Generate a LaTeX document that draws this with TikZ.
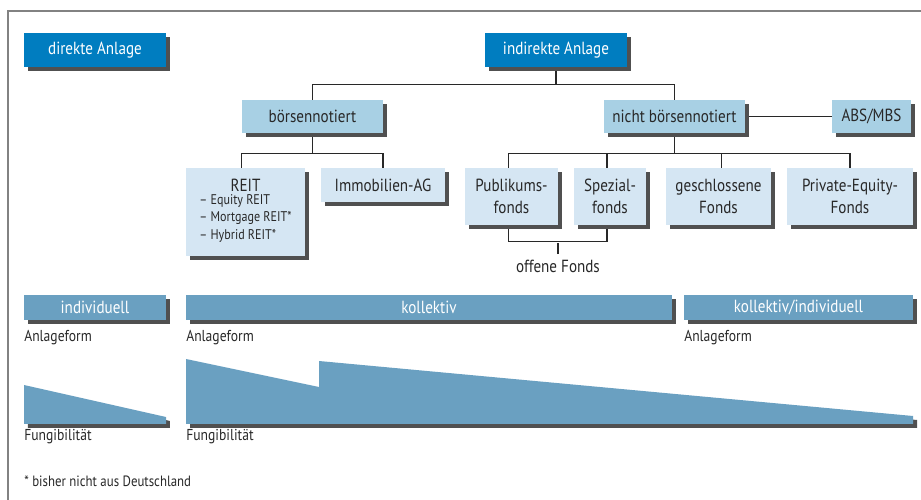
\documentclass[tikz,border=0pt]{standalone}
\usepackage{fontspec}
\setmainfont{PT Sans}[FakeStretch=0.86]
\usepackage{tikz}
\usetikzlibrary{shadows,backgrounds}
\definecolor{anlageblue}{RGB}{0,125,192}
\definecolor{groupblue}{RGB}{168,208,228}
\definecolor{leafblue}{RGB}{213,230,243}
\definecolor{barblue}{RGB}{106,160,193}
\definecolor{shadowgray}{RGB}{80,80,80}
\definecolor{textgray}{RGB}{40,40,40}
\definecolor{framegray}{RGB}{130,130,130}
\tikzset{
  boxshadow/.style={drop shadow={shadow xshift=0.08cm,shadow yshift=-0.08cm,
    fill=shadowgray,opacity=1}},
  topbox/.style={rectangle,fill=anlageblue,boxshadow,text=white,
    minimum width=2.84cm,minimum height=0.68cm,inner sep=2pt,
    font=\fontsize{10}{12}\selectfont},
  groupbox/.style={rectangle,fill=groupblue,boxshadow,text=textgray,
    minimum height=0.66cm,inner sep=2pt,font=\fontsize{10}{12}\selectfont},
  leafbox/.style={rectangle,fill=leafblue,boxshadow,text=textgray,align=center,
    minimum height=1.14cm,inner sep=2pt,font=\fontsize{10}{12.5}\selectfont},
  barbox/.style={rectangle,fill=barblue,boxshadow,text=white,
    minimum height=0.5cm,inner sep=1pt,font=\fontsize{10}{12}\selectfont},
  note/.style={anchor=west,inner sep=0pt,text=textgray,
    font=\fontsize{9}{11}\selectfont},
  conn/.style={draw=textgray,line width=0.6pt},
}

\begin{document}
\begin{tikzpicture}[x=0.02cm,y=-0.02cm]
  \useasboundingbox (0,0) rectangle (921,500);
  \draw[framegray,line width=0.8pt] (921,11) -| (8,500);

  % top level
  \node[topbox] (direkt) at (95,50) {direkte Anlage};
  \node[topbox] (indirekt) at (556,50) {indirekte Anlage};

  \node[groupbox,minimum width=2.82cm] (boerse) at (312.5,116.5) {börsennotiert};
  \node[groupbox,minimum width=2.82cm] (nicht) at (674.5,116.5) {nicht börsennotiert};
  \node[groupbox,minimum width=1.58cm] (abs) at (871.5,116.5) {ABS/MBS};

  % products
  \node[leafbox,minimum width=2.38cm,minimum height=1.76cm] (reit) at (245.5,212)
    {REIT\\[-1pt]{\fontsize{8}{10}\selectfont\begin{tabular}{@{}l@{}}
      – Equity REIT\\ – Mortgage REIT*\\ – Hybrid REIT*\end{tabular}}};
  \node[leafbox,minimum width=2.48cm,minimum height=0.68cm] (immo) at (383,185) {Immobilien-AG};
  \node[leafbox,minimum width=1.86cm] (publ) at (511.5,196.5) {Publikums-\\fonds};
  \node[leafbox,minimum width=1.44cm] (spez) at (610,196.5) {Spezial-\\fonds};
  \node[leafbox,minimum width=2.10cm] (geschl) at (718.5,196.5) {geschlossene\\Fonds};
  \node[leafbox,minimum width=2.52cm] (pe) at (850,196.5) {Private-Equity-\\Fonds};
  \node[text=textgray,inner sep=3pt,font=\fontsize{10}{12}\selectfont] (offen) at (558,266) {offene Fonds};

  \begin{scope}[on background layer]
    \draw[conn] (indirekt.south) -- ++(0,18);
    \draw[conn] (boerse.north) -- ++(0,-15) -| (nicht.north);
    \draw[conn] (boerse.south) -- ++(0,21);
    \draw[conn] ([xshift=-0.08cm]reit.north) -- ++(0,-14) -| (immo.north);
    \draw[conn] (nicht.south) -- ++(0,21);
    \draw[conn] (nicht.east) -- (abs.west);
    \draw[conn] ([xshift=-0.06cm]publ.north) -- ++(0,-14) -| (pe.north);
    \draw[conn] ([xshift=-0.06cm]spez.north) -- ++(0,-14);
    \draw[conn] ([xshift=0.06cm]geschl.north) -- ++(0,-14);
    \draw[conn] ([xshift=-0.06cm]publ.south) -- ++(0,16) -| ([xshift=-0.06cm]spez.south);
    \draw[conn] (offen.north) -- ++(0,-11);
  \end{scope}

  % Anlageform
  \node[barbox,minimum width=2.84cm] (indiv) at (95,307.5) {individuell};
  \node[barbox,minimum width=9.72cm] (koll) at (429,307.5) {kollektiv};
  \node[barbox,minimum width=4.58cm] (kollind) at (798.5,307.5) {kollektiv/individuell};
  \node[note] (anlage1) at (24,338) {Anlageform};
  \node[note] (anlage2) at (186,338) {Anlageform};
  \node[note] (anlage3) at (684,338) {Anlageform};

  % Fungibilitaet
  \fill[shadowgray,xshift=0.08cm,yshift=-0.08cm] (24,385) -- (166,417) -- (166,424) -- (24,424) -- cycle;
  \fill[barblue] (24,385) -- (166,417) -- (166,424) -- (24,424) -- cycle;
  \fill[shadowgray,xshift=0.08cm,yshift=-0.08cm] (186,359) -- (319,387) -- (319,361)
    -- (913,416) -- (913,424) -- (186,424) -- cycle;
  \fill[barblue] (186,359) -- (319,387) -- (319,361)
    -- (913,416) -- (913,424) -- (186,424) -- cycle;
  \node[note] (fung1) at (24,437) {Fungibilität};
  \node[note] (fung2) at (186,437) {Fungibilität};

  \node[note,font=\fontsize{8.5}{10}\selectfont] (fussnote) at (24,481) {* bisher nicht aus Deutschland};
\end{tikzpicture}
\end{document}
